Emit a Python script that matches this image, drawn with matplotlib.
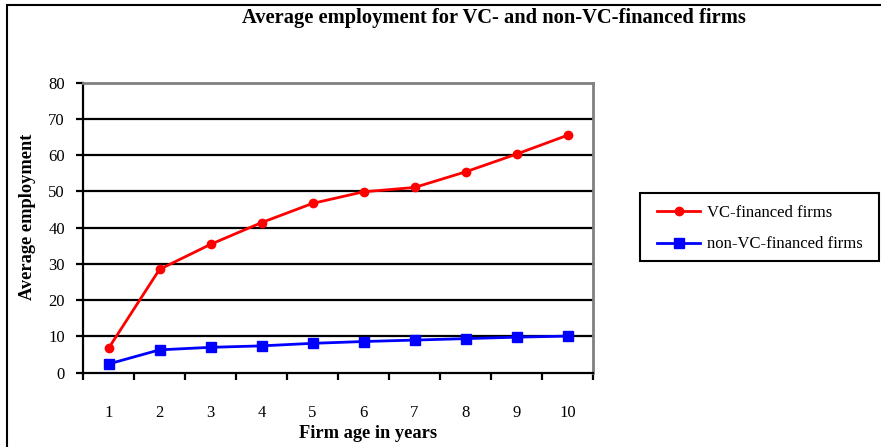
import matplotlib
matplotlib.use("Agg")
import matplotlib.pyplot as plt
from matplotlib.patches import Rectangle

ages = [1, 2, 3, 4, 5, 6, 7, 8, 9, 10]
vc_financed = [6.7, 28.5, 35.4, 41.4, 46.7, 49.9, 51.1, 55.4, 60.3, 65.5]
non_vc_financed = [2.4, 6.3, 7.0, 7.4, 8.1, 8.6, 9.0, 9.4, 9.8, 10.1]
y_ticks = [0, 10, 20, 30, 40, 50, 60, 70, 80]

plt.rcParams['font.family'] = ['Liberation Serif', 'DejaVu Serif']

W, H = 881, 447
fig = plt.figure(figsize=(W / 100, H / 100), dpi=100)
fig.patch.set_facecolor('white')

# chart-area border (extends beyond right/bottom edge)
fig.add_artist(Rectangle((7 / W, -0.05), 1.2, 1 - 5 / H + 0.05, transform=fig.transFigure,
                         fill=False, edgecolor='black', linewidth=1.5))

ax = fig.add_axes([83 / W, 1 - 372.7 / H, (593 - 83) / W, (372.7 - 82.7) / H])
ax.set_xlim(0.5, 10.5)
ax.set_ylim(0, 80)

for v in y_ticks[1:-1]:
    ax.axhline(v, color='black', linewidth=1.6, zorder=1)

ax.plot(ages, vc_financed, color='#ff0000', linewidth=2, marker='o', markersize=6,
        label='VC-financed firms', zorder=3)
ax.plot(ages, non_vc_financed, color='#0000ff', linewidth=2, marker='s', markersize=7,
        label='non-VC-financed firms', zorder=3)

ax.spines['top'].set_color('#808080')
ax.spines['right'].set_color('#808080')
ax.spines['top'].set_linewidth(2)
ax.spines['right'].set_linewidth(2)
ax.spines['left'].set_linewidth(1.6)
ax.spines['bottom'].set_linewidth(1.6)

ax.set_yticks(y_ticks)
ax.set_yticklabels([str(v) for v in y_ticks], fontsize=12)
ax.set_xticks(ages)
ax.set_xticklabels([str(a) for a in ages], fontsize=12)
ax.set_xticks([a + 0.5 for a in range(0, 11)], minor=True)
ax.tick_params(axis='x', which='major', length=0, pad=23)
ax.tick_params(axis='x', which='minor', length=5, width=1.6, direction='out')
ax.tick_params(axis='y', which='major', length=5, width=1.6, direction='out', pad=8)

ax.set_xlabel('Firm age in years', fontsize=13.2, fontweight='bold')
ax.set_ylabel('Average employment', fontsize=13.2, fontweight='bold')
ax.xaxis.set_label_coords((368 - 83) / (593 - 83), -(433 - 372.7) / (372.7 - 82.7))
ax.xaxis.label.set_va('center')
ax.yaxis.set_label_coords(-(83 - 28) / (593 - 83), (372.7 - 217) / (372.7 - 82.7))
ax.yaxis.label.set_va('center')

fig.text(494 / W, 1 - 18 / H, 'Average employment for VC- and non-VC-financed firms',
         ha='center', va='center', fontsize=14.8, fontweight='bold')

# legend
fig.add_artist(Rectangle((640 / W, 1 - 261 / H), (879 - 640) / W, (261 - 193) / H,
                         transform=fig.transFigure, fill=False, edgecolor='black', linewidth=1.5))
handles, labels = ax.get_legend_handles_labels()
leg = fig.legend(handles, labels, loc='center left', bbox_to_anchor=(657 / W, 1 - 228.5 / H),
                 frameon=False, fontsize=12, handlelength=2.6, handletextpad=0.4,
                 labelspacing=0.95, borderaxespad=0, borderpad=0)

fig.savefig('out.png', dpi=100, facecolor='white')
